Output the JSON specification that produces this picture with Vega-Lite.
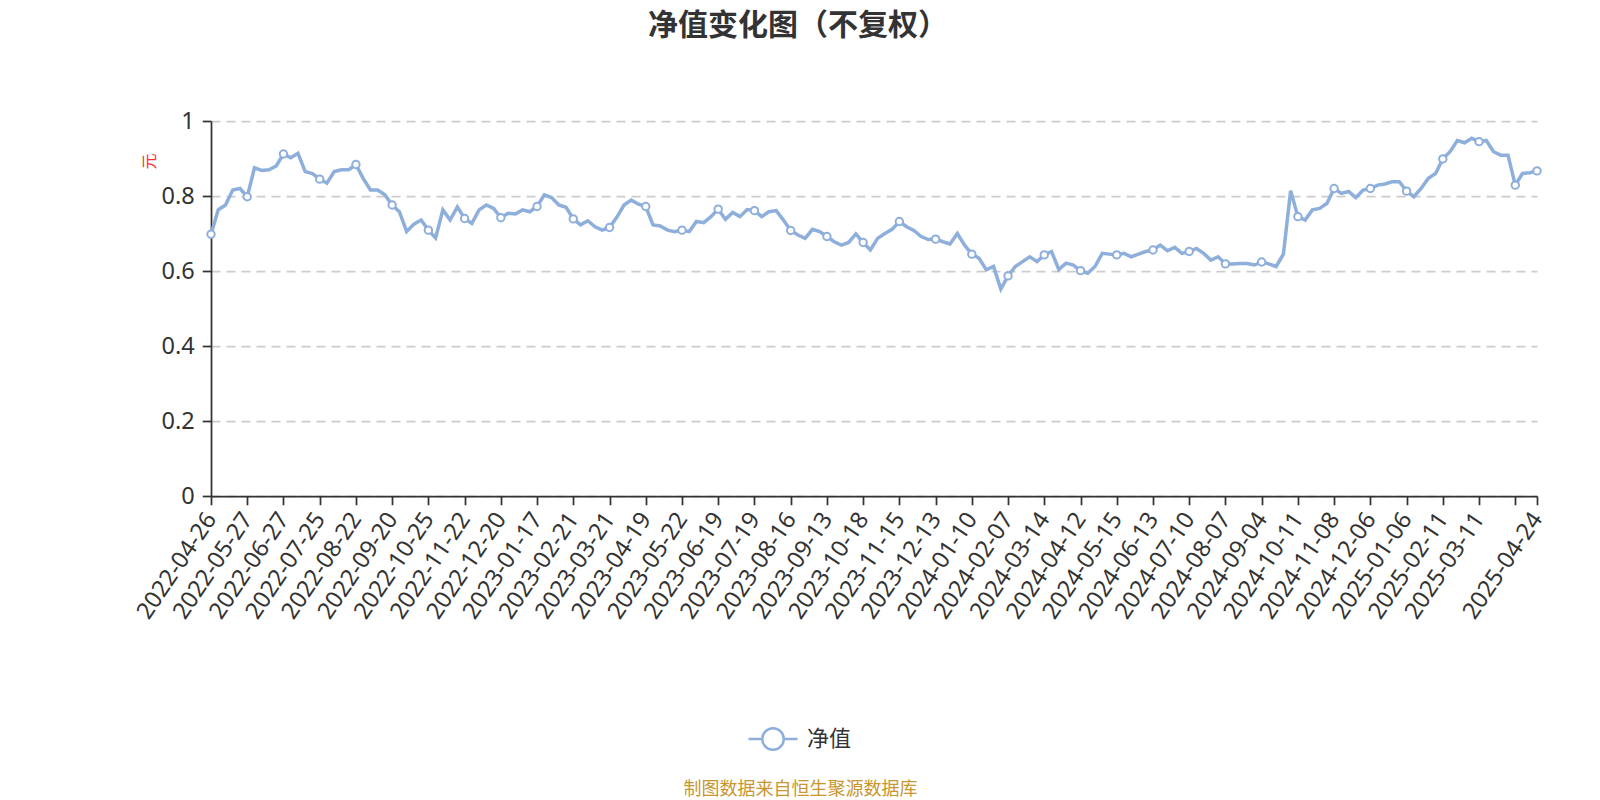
{
  "$schema": "https://vega.github.io/schema/vega-lite/v6.json",
  "width": 1326,
  "height": 375,
  "autosize": {"type": "none"},
  "padding": {"left": 211, "top": 121, "right": 63, "bottom": 304},
  "background": "#ffffff",
  "config": {
    "font": "Noto Sans CJK SC",
    "view": {"stroke": null}
  },
  "title": {
    "text": "净值变化图（不复权）",
    "fontSize": 30,
    "fontWeight": "bold",
    "color": "#333333",
    "anchor": "middle",
    "frame": "group",
    "dx": -76,
    "offset": 68
  },
  "data": {
    "values": [
      {"date": "2022-04-26", "nav": 0.698},
      {"date": "2022-05-05", "nav": 0.763},
      {"date": "2022-05-11", "nav": 0.776},
      {"date": "2022-05-17", "nav": 0.816},
      {"date": "2022-05-23", "nav": 0.82},
      {"date": "2022-05-27", "nav": 0.798},
      {"date": "2022-06-02", "nav": 0.875},
      {"date": "2022-06-09", "nav": 0.868},
      {"date": "2022-06-15", "nav": 0.87},
      {"date": "2022-06-21", "nav": 0.88},
      {"date": "2022-06-27", "nav": 0.912},
      {"date": "2022-06-30", "nav": 0.902},
      {"date": "2022-07-06", "nav": 0.914},
      {"date": "2022-07-12", "nav": 0.865},
      {"date": "2022-07-19", "nav": 0.86},
      {"date": "2022-07-25", "nav": 0.845},
      {"date": "2022-07-29", "nav": 0.834},
      {"date": "2022-08-04", "nav": 0.865},
      {"date": "2022-08-10", "nav": 0.87},
      {"date": "2022-08-16", "nav": 0.87},
      {"date": "2022-08-22", "nav": 0.884},
      {"date": "2022-08-26", "nav": 0.847},
      {"date": "2022-09-01", "nav": 0.816},
      {"date": "2022-09-07", "nav": 0.816},
      {"date": "2022-09-14", "nav": 0.803},
      {"date": "2022-09-20", "nav": 0.776},
      {"date": "2022-09-26", "nav": 0.758},
      {"date": "2022-09-30", "nav": 0.705},
      {"date": "2022-10-14", "nav": 0.725},
      {"date": "2022-10-19", "nav": 0.736},
      {"date": "2022-10-25", "nav": 0.709},
      {"date": "2022-10-31", "nav": 0.688},
      {"date": "2022-11-04", "nav": 0.763},
      {"date": "2022-11-10", "nav": 0.736},
      {"date": "2022-11-16", "nav": 0.771},
      {"date": "2022-11-22", "nav": 0.74},
      {"date": "2022-11-28", "nav": 0.727},
      {"date": "2022-12-02", "nav": 0.763},
      {"date": "2022-12-08", "nav": 0.776},
      {"date": "2022-12-14", "nav": 0.767},
      {"date": "2022-12-20", "nav": 0.742},
      {"date": "2022-12-26", "nav": 0.754},
      {"date": "2022-12-30", "nav": 0.752},
      {"date": "2023-01-05", "nav": 0.763},
      {"date": "2023-01-11", "nav": 0.758},
      {"date": "2023-01-17", "nav": 0.772},
      {"date": "2023-01-31", "nav": 0.803},
      {"date": "2023-02-06", "nav": 0.796},
      {"date": "2023-02-10", "nav": 0.776},
      {"date": "2023-02-15", "nav": 0.77},
      {"date": "2023-02-21", "nav": 0.739},
      {"date": "2023-02-27", "nav": 0.723},
      {"date": "2023-03-03", "nav": 0.734},
      {"date": "2023-03-09", "nav": 0.718},
      {"date": "2023-03-15", "nav": 0.709},
      {"date": "2023-03-21", "nav": 0.716},
      {"date": "2023-03-27", "nav": 0.743},
      {"date": "2023-03-31", "nav": 0.776},
      {"date": "2023-04-07", "nav": 0.789},
      {"date": "2023-04-13", "nav": 0.778},
      {"date": "2023-04-19", "nav": 0.772},
      {"date": "2023-04-25", "nav": 0.723},
      {"date": "2023-05-04", "nav": 0.72},
      {"date": "2023-05-10", "nav": 0.709},
      {"date": "2023-05-16", "nav": 0.705},
      {"date": "2023-05-22", "nav": 0.709},
      {"date": "2023-05-26", "nav": 0.705},
      {"date": "2023-06-01", "nav": 0.732},
      {"date": "2023-06-07", "nav": 0.729},
      {"date": "2023-06-13", "nav": 0.745},
      {"date": "2023-06-19", "nav": 0.765},
      {"date": "2023-06-27", "nav": 0.738},
      {"date": "2023-07-03", "nav": 0.756},
      {"date": "2023-07-07", "nav": 0.745},
      {"date": "2023-07-13", "nav": 0.764},
      {"date": "2023-07-19", "nav": 0.761},
      {"date": "2023-07-25", "nav": 0.745},
      {"date": "2023-07-31", "nav": 0.758},
      {"date": "2023-08-04", "nav": 0.761},
      {"date": "2023-08-10", "nav": 0.736},
      {"date": "2023-08-16", "nav": 0.708},
      {"date": "2023-08-22", "nav": 0.696},
      {"date": "2023-08-28", "nav": 0.687},
      {"date": "2023-09-01", "nav": 0.711},
      {"date": "2023-09-07", "nav": 0.705},
      {"date": "2023-09-13", "nav": 0.692},
      {"date": "2023-09-19", "nav": 0.678},
      {"date": "2023-09-25", "nav": 0.669},
      {"date": "2023-10-09", "nav": 0.676},
      {"date": "2023-10-12", "nav": 0.699},
      {"date": "2023-10-18", "nav": 0.676},
      {"date": "2023-10-24", "nav": 0.656},
      {"date": "2023-10-30", "nav": 0.687},
      {"date": "2023-11-03", "nav": 0.7},
      {"date": "2023-11-09", "nav": 0.711},
      {"date": "2023-11-15", "nav": 0.732},
      {"date": "2023-11-21", "nav": 0.718},
      {"date": "2023-11-27", "nav": 0.708},
      {"date": "2023-12-01", "nav": 0.692},
      {"date": "2023-12-07", "nav": 0.684},
      {"date": "2023-12-13", "nav": 0.685},
      {"date": "2023-12-19", "nav": 0.678},
      {"date": "2023-12-25", "nav": 0.672},
      {"date": "2023-12-29", "nav": 0.7},
      {"date": "2024-01-04", "nav": 0.669},
      {"date": "2024-01-10", "nav": 0.645},
      {"date": "2024-01-16", "nav": 0.634},
      {"date": "2024-01-22", "nav": 0.603},
      {"date": "2024-01-26", "nav": 0.612},
      {"date": "2024-02-01", "nav": 0.552},
      {"date": "2024-02-07", "nav": 0.587},
      {"date": "2024-02-20", "nav": 0.612},
      {"date": "2024-02-26", "nav": 0.625},
      {"date": "2024-03-01", "nav": 0.638},
      {"date": "2024-03-07", "nav": 0.625},
      {"date": "2024-03-14", "nav": 0.643},
      {"date": "2024-03-20", "nav": 0.652},
      {"date": "2024-03-26", "nav": 0.604},
      {"date": "2024-04-01", "nav": 0.621},
      {"date": "2024-04-08", "nav": 0.616},
      {"date": "2024-04-12", "nav": 0.601},
      {"date": "2024-04-18", "nav": 0.594},
      {"date": "2024-04-24", "nav": 0.612},
      {"date": "2024-04-30", "nav": 0.647},
      {"date": "2024-05-09", "nav": 0.645},
      {"date": "2024-05-15", "nav": 0.643},
      {"date": "2024-05-21", "nav": 0.647},
      {"date": "2024-05-27", "nav": 0.638},
      {"date": "2024-05-31", "nav": 0.645},
      {"date": "2024-06-06", "nav": 0.652},
      {"date": "2024-06-13", "nav": 0.656},
      {"date": "2024-06-19", "nav": 0.669},
      {"date": "2024-06-25", "nav": 0.654},
      {"date": "2024-06-28", "nav": 0.663},
      {"date": "2024-07-04", "nav": 0.647},
      {"date": "2024-07-10", "nav": 0.652},
      {"date": "2024-07-16", "nav": 0.66},
      {"date": "2024-07-22", "nav": 0.647},
      {"date": "2024-07-26", "nav": 0.629},
      {"date": "2024-08-01", "nav": 0.638},
      {"date": "2024-08-07", "nav": 0.619},
      {"date": "2024-08-13", "nav": 0.619},
      {"date": "2024-08-19", "nav": 0.62},
      {"date": "2024-08-23", "nav": 0.62},
      {"date": "2024-08-29", "nav": 0.616},
      {"date": "2024-09-04", "nav": 0.624},
      {"date": "2024-09-13", "nav": 0.619},
      {"date": "2024-09-20", "nav": 0.612},
      {"date": "2024-09-26", "nav": 0.645},
      {"date": "2024-10-08", "nav": 0.814},
      {"date": "2024-10-11", "nav": 0.745},
      {"date": "2024-10-17", "nav": 0.736},
      {"date": "2024-10-23", "nav": 0.763},
      {"date": "2024-10-29", "nav": 0.767},
      {"date": "2024-11-04", "nav": 0.78},
      {"date": "2024-11-08", "nav": 0.82},
      {"date": "2024-11-14", "nav": 0.807},
      {"date": "2024-11-20", "nav": 0.812},
      {"date": "2024-11-26", "nav": 0.796},
      {"date": "2024-12-02", "nav": 0.816},
      {"date": "2024-12-06", "nav": 0.82},
      {"date": "2024-12-12", "nav": 0.829},
      {"date": "2024-12-18", "nav": 0.832},
      {"date": "2024-12-24", "nav": 0.838},
      {"date": "2024-12-30", "nav": 0.838},
      {"date": "2025-01-06", "nav": 0.813},
      {"date": "2025-01-10", "nav": 0.798},
      {"date": "2025-01-16", "nav": 0.82},
      {"date": "2025-01-22", "nav": 0.847},
      {"date": "2025-02-05", "nav": 0.86},
      {"date": "2025-02-11", "nav": 0.899},
      {"date": "2025-02-17", "nav": 0.918},
      {"date": "2025-02-21", "nav": 0.948},
      {"date": "2025-02-27", "nav": 0.942},
      {"date": "2025-03-05", "nav": 0.954},
      {"date": "2025-03-11", "nav": 0.945},
      {"date": "2025-03-17", "nav": 0.948},
      {"date": "2025-03-21", "nav": 0.918},
      {"date": "2025-03-27", "nav": 0.909},
      {"date": "2025-04-02", "nav": 0.909},
      {"date": "2025-04-09", "nav": 0.829},
      {"date": "2025-04-15", "nav": 0.86},
      {"date": "2025-04-18", "nav": 0.862},
      {"date": "2025-04-24", "nav": 0.867}
    ]
  },
  "encoding": {
    "x": {
      "field": "date",
      "type": "ordinal",
      "scale": {"type": "point", "padding": 0},
      "axis": {
        "values": ["2022-04-26","2022-05-27","2022-06-27","2022-07-25","2022-08-22","2022-09-20","2022-10-25","2022-11-22","2022-12-20","2023-01-17","2023-02-21","2023-03-21","2023-04-19","2023-05-22","2023-06-19","2023-07-19","2023-08-16","2023-09-13","2023-10-18","2023-11-15","2023-12-13","2024-01-10","2024-02-07","2024-03-14","2024-04-12","2024-05-15","2024-06-13","2024-07-10","2024-08-07","2024-09-04","2024-10-11","2024-11-08","2024-12-06","2025-01-06","2025-02-11","2025-03-11","2025-04-09","2025-04-24"],
        "labelExpr": "datum.value == '2025-04-09' ? '' : datum.value",
        "labelAngle": -56,
        "labelAlign": "right",
        "labelBaseline": "middle",
        "labelFont": "Noto Sans",
        "labelFontSize": 23.5,
        "labelColor": "#333333",
        "labelPadding": 10,
        "labelOverlap": false,
        "labelBound": false,
        "labelFlush": false,
        "domainColor": "#333333",
        "domainWidth": 1.75,
        "tickColor": "#333333",
        "tickWidth": 1.75,
        "tickSize": 8.75,
        "grid": false,
        "title": "制图数据来自恒生聚源数据库",
        "titleColor": "#c8962e",
        "titleFontSize": 18,
        "titleFontWeight": "normal",
        "titleX": 589,
        "titleY": 293,
        "titleAlign": "center",
        "titleBaseline": "middle",
        "titleAngle": 0
      }
    },
    "y": {
      "field": "nav",
      "type": "quantitative",
      "scale": {"domain": [0, 1], "zero": true, "nice": false},
      "axis": {
        "values": [0, 0.2, 0.4, 0.6, 0.8, 1],
        "format": ".1~f",
        "labelFont": "Noto Sans",
        "labelFontSize": 23.5,
        "labelColor": "#333333",
        "labelPadding": 8,
        "domainColor": "#333333",
        "domainWidth": 1.75,
        "tickColor": "#333333",
        "tickWidth": 1.75,
        "tickSize": 8.75,
        "grid": true,
        "gridColor": "#cccccc",
        "gridWidth": 1.75,
        "gridDash": [9, 6],
        "title": "元",
        "titleColor": "#ff2a2a",
        "titleFontSize": 16,
        "titleFontWeight": "normal",
        "titleX": -62,
        "titleY": 40,
        "titleAngle": -90,
        "titleAlign": "center",
        "titleBaseline": "middle"
      }
    }
  },
  "layer": [
    {
      "mark": {"type": "line", "strokeWidth": 3.5, "interpolate": "linear"},
      "encoding": {
        "color": {
          "datum": "净值",
          "type": "nominal",
          "scale": {"range": ["#8eaedc"]},
          "legend": {
            "orient": "none",
            "legendX": 536,
            "legendY": 592,
            "title": null,
            "symbolType": "M-1,0L-0.44,0M0.44,0L1,0M0.44,0A0.44,0.44,0,1,1,-0.44,0A0.44,0.44,0,1,1,0.44,0",
            "symbolSize": 2401,
            "symbolStrokeWidth": 2.5,
            "symbolStrokeColor": "#8eaedc",
            "symbolFillColor": "#ffffff",
            "labelFontSize": 22,
            "labelColor": "#333333",
            "labelOffset": 8
          }
        }
      }
    },
    {
      "transform": [
        {"filter": {"field": "date", "oneOf": ["2022-04-26","2022-05-27","2022-06-27","2022-07-25","2022-08-22","2022-09-20","2022-10-25","2022-11-22","2022-12-20","2023-01-17","2023-02-21","2023-03-21","2023-04-19","2023-05-22","2023-06-19","2023-07-19","2023-08-16","2023-09-13","2023-10-18","2023-11-15","2023-12-13","2024-01-10","2024-02-07","2024-03-14","2024-04-12","2024-05-15","2024-06-13","2024-07-10","2024-08-07","2024-09-04","2024-10-11","2024-11-08","2024-12-06","2025-01-06","2025-02-11","2025-03-11","2025-04-09","2025-04-24"]}}
      ],
      "mark": {"type": "point", "shape": "circle", "filled": true, "fill": "#ffffff", "stroke": "#8eaedc", "strokeWidth": 2, "size": 55, "opacity": 1}
    }
  ]
}
